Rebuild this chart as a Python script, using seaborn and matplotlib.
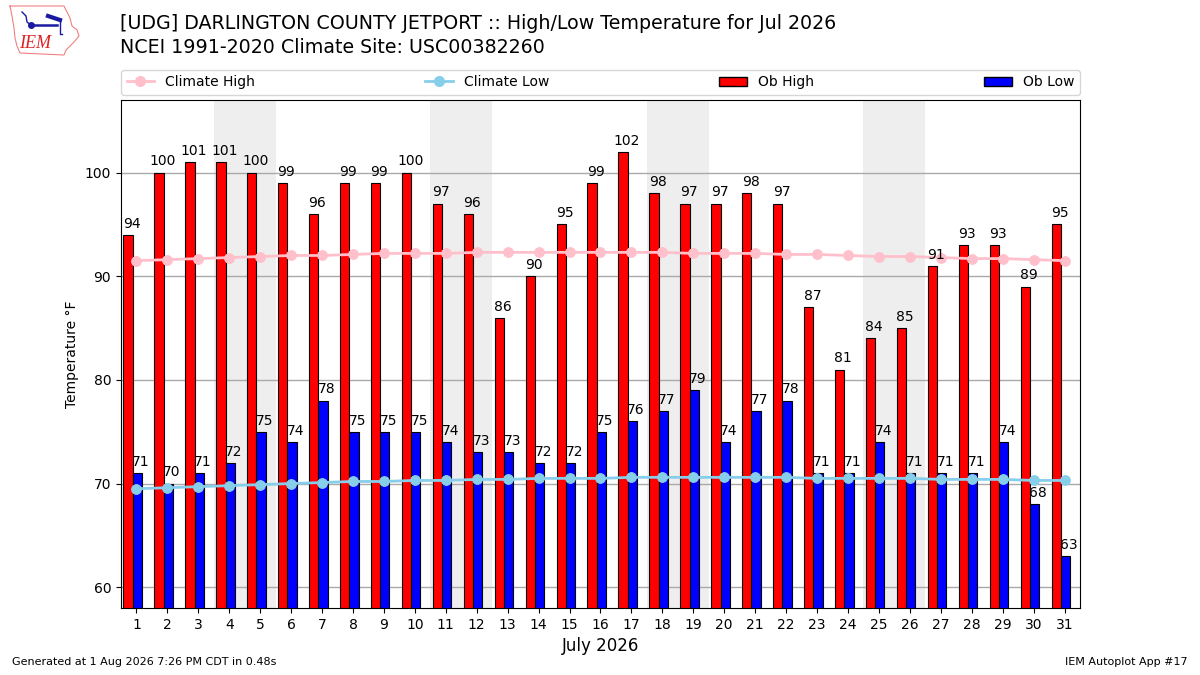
import pandas as pd
import numpy as np
import matplotlib
matplotlib.use("Agg")
import matplotlib.pyplot as plt
import seaborn as sns
from matplotlib.patches import Patch
from matplotlib.lines import Line2D

# daily obs for July 2026
days = list(range(1, 32))
ob_high = [94, 100, 101, 101, 100, 99, 96, 99, 99, 100, 97, 96, 86, 90, 95, 99,
           102, 98, 97, 97, 98, 97, 87, 81, 84, 85, 91, 93, 93, 89, 95]
ob_low = [71, 70, 71, 72, 75, 74, 78, 75, 75, 75, 74, 73, 73, 72, 72, 75,
          76, 77, 79, 74, 77, 78, 71, 71, 74, 71, 71, 71, 74, 68, 63]
# climatology
clim_high = [91.5, 91.6, 91.7, 91.8, 91.9, 92.0, 92.0, 92.1, 92.2, 92.2, 92.2,
             92.3, 92.3, 92.3, 92.3, 92.3, 92.3, 92.3, 92.2, 92.2, 92.2, 92.1,
             92.1, 92.0, 91.9, 91.9, 91.8, 91.7, 91.7, 91.6, 91.5]
clim_low = [69.5, 69.6, 69.7, 69.8, 69.9, 70.0, 70.1, 70.2, 70.2, 70.3, 70.3,
            70.4, 70.4, 70.5, 70.5, 70.5, 70.6, 70.6, 70.6, 70.6, 70.6, 70.6,
            70.5, 70.5, 70.5, 70.5, 70.4, 70.4, 70.4, 70.3, 70.3]

dates = pd.date_range("2026-07-01", periods=len(days), freq="D")

# long format for seaborn
df = pd.DataFrame({"day": days * 2,
                   "temp": ob_high + ob_low,
                   "kind": ["Ob High"] * len(days) + ["Ob Low"] * len(days)})
df["pos"] = df["day"] - 0.12

fig = plt.figure(figsize=(12, 6.75), dpi=100)
ax = fig.add_axes([0.1008, 0.0993, 0.7992, 0.7526])

# weekend shading
for d, dt in zip(days, dates):
    if dt.dayofweek >= 5:
        ax.axvspan(d - 0.5, d + 0.5, color="#EEEEEE", zorder=0, lw=0)

sns.barplot(data=df, x="pos", y="temp", hue="kind", native_scale=True,
            palette={"Ob High": "red", "Ob Low": "blue"}, saturation=1,
            width=0.6, dodge=True, edgecolor="black", linewidth=0.8,
            legend=False, ax=ax, zorder=2)

sns.lineplot(x=days, y=clim_high, color="pink", marker="o", markersize=7,
             markeredgecolor="pink", lw=2, ax=ax, zorder=3)
sns.lineplot(x=days, y=clim_low, color="skyblue", marker="o", markersize=7,
             markeredgecolor="skyblue", lw=2, ax=ax, zorder=3)

# value labels
for d, h, l in zip(days, ob_high, ob_low):
    ax.annotate(str(h), (d - 0.27 + 0.12, h), xytext=(0, 3), textcoords="offset points",
                ha="center", va="bottom", fontsize=10, zorder=4)
    ax.annotate(str(l), (d + 0.03 + 0.12, l), xytext=(0, 3), textcoords="offset points",
                ha="center", va="bottom", fontsize=10, zorder=4)

ax.set_xlim(0.5, 31.5)
ax.set_ylim(58, 107)
ax.set_xticks(days)
ax.set_xticklabels([str(d) for d in days], fontsize=10)
ax.set_yticks([60, 70, 80, 90, 100])
ax.tick_params(axis="y", labelsize=10)
ax.set_axisbelow(True)
ax.yaxis.grid(True, color="#aaaaaa", lw=1)
ax.xaxis.grid(False)
ax.set_xlabel("July 2026", fontsize=12)
ax.set_ylabel("Temperature °F", fontsize=10)

handles = [Line2D([], [], color="pink", marker="o", markersize=7, lw=2),
           Line2D([], [], color="skyblue", marker="o", markersize=7, lw=2),
           Patch(facecolor="red", edgecolor="black"),
           Patch(facecolor="blue", edgecolor="black")]
labels = ["Climate High", "Climate Low", "Ob High", "Ob Low"]
ax.legend(handles, labels, ncol=4, mode="expand", loc="lower left",
          bbox_to_anchor=(0, 1.01, 1, 0.05), fontsize=10, borderaxespad=0)

fig.text(0.1, 0.965, "[UDG] DARLINGTON COUNTY JETPORT :: High/Low Temperature for Jul 2026",
         fontsize=13.7, va="center", ha="left")
fig.text(0.1, 0.93, "NCEI 1991-2020 Climate Site: USC00382260",
         fontsize=13.7, va="center", ha="left")

# rough IEM logo (pixel coords, y down)
lax = fig.add_axes([0, 1 - 67.5 / 675, 100 / 1200, 67.5 / 675])
lax.set_xlim(0, 100)
lax.set_ylim(67.5, 0)
lax.axis("off")
lx = [10, 64, 66, 70, 72, 77, 79, 74, 70, 66, 64, 20, 17, 15, 14, 12, 10]
ly = [6, 6, 10, 18, 26, 30, 36, 42, 46, 50, 55, 53, 46, 38, 28, 16, 6]
lax.plot(lx, ly, color="#f08080", lw=0.8)
lax.plot([30, 57], [25, 25], color="#1a1aa0", lw=1.8)
lax.plot([31], [25], "o", color="#1a1aa0", ms=4)
lax.plot([22, 26, 27, 31], [12, 16, 22, 25], color="#1a1aa0", lw=1)
lax.plot([48, 60], [16, 20], color="#1a1aa0", lw=3)
lax.plot([60, 60, 62], [20, 34, 34], color="#1a1aa0", lw=1)
lax.text(35, 43, "IEM", color="#dd2222", fontsize=13, style="italic",
         family="Liberation Serif", ha="center", va="center")

fig.text(0.01, 0.015, "Generated at 1 Aug 2026 7:26 PM CDT in 0.48s", fontsize=8)
fig.text(0.99, 0.015, "IEM Autoplot App #17", fontsize=8, ha="right")

fig.savefig("out.png", dpi=100)
